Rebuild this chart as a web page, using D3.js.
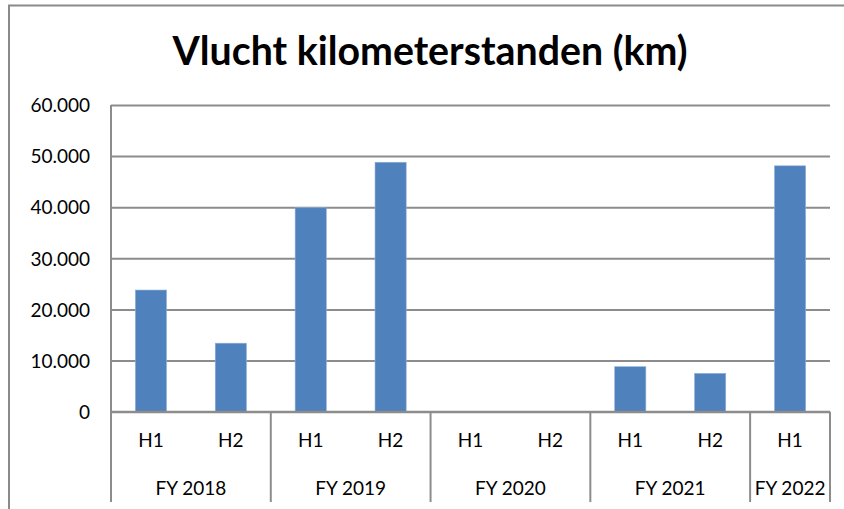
<!DOCTYPE html>
<html><head><meta charset="utf-8">
<script src="https://cdn.jsdelivr.net/npm/d3@7"></script>
<style>html,body{margin:0;padding:0;background:#fff;}svg{display:block;}</style>
</head><body>
<svg id="c" width="844" height="509"></svg>
<script>
const title = "Vlucht kilometerstanden (km)";
const halves = ["H1","H2","H1","H2","H1","H2","H1","H2","H1"];
const years  = ["FY 2018","FY 2018","FY 2019","FY 2019","FY 2020","FY 2020","FY 2021","FY 2021","FY 2022"];
const values = [23800, 13400, 39900, 48800, 0, 0, 8800, 7500, 48100];
const yTicks = [0, 10000, 20000, 30000, 40000, 50000, 60000];

const svg = d3.select("#c");
const W = 844, H = 509;
const m = {left:111, right:830, top:105, bottom:411.7};
const font = "Lato, 'Open Sans', sans-serif";
const gridColor = "#8c8c8c";

const idx = values.map((d,i)=>i);
const x = d3.scaleBand().domain(idx).range([m.left, m.right]).paddingInner(0.61).paddingOuter(0.305);
const y = d3.scaleLinear().domain([0, 60000]).range([m.bottom, m.top]);
const loc = d3.formatLocale({decimal:",", thousands:".", grouping:[3], currency:["",""]});
const fmt = loc.format(",d");

// outer frame
svg.append("path").attr("d", `M9,509 V5.5 H844`).attr("fill","none").attr("stroke","#8a8a8a").attr("stroke-width",2);

// title
const t = svg.append("text").attr("x", 430).attr("y", 65).attr("text-anchor","middle")
  .attr("font-family", font).attr("font-weight","bold").attr("font-size",38).attr("fill","#000")
  .text(title);
const tw = t.node().getComputedTextLength();
if (tw > 0) t.attr("font-size", 38 * 515 / tw);

// grid
const yAxis = d3.axisLeft(y).tickValues(yTicks).tickSize(-(m.right-m.left)).tickFormat(fmt).tickPadding(21);
const ga = svg.append("g").attr("transform",`translate(${m.left},0)`).call(yAxis);
ga.select(".domain").remove();
ga.selectAll(".tick line").attr("stroke", gridColor).attr("stroke-width",2);
ga.selectAll(".tick text").attr("font-family", font).attr("font-size",19).attr("fill","#000").attr("dy","0.35em");

// bars
svg.append("g").selectAll("rect").data(values).join("rect")
  .attr("x",(d,i)=>x(i)).attr("width",x.bandwidth())
  .attr("y",d=>y(d)).attr("height",d=>y(0)-y(d))
  .attr("fill","#4f81bd").attr("stroke","#8fb0da").attr("stroke-width",0.6);

// axis lines
const step = x.step();
const catLeft = i => m.left + i*step;
svg.append("line").attr("x1",m.left).attr("x2",m.left).attr("y1",m.top).attr("y2",502).attr("stroke",gridColor).attr("stroke-width",2);
svg.append("line").attr("x1",m.left).attr("x2",m.right).attr("y1",m.bottom).attr("y2",m.bottom).attr("stroke",gridColor).attr("stroke-width",2);

// group separators
const groups = [];
years.forEach((yv,i)=>{ if(!groups.length || groups[groups.length-1].name!==yv) groups.push({name:yv,start:i,end:i+1}); else groups[groups.length-1].end=i+1; });
const seps = [0].concat(groups.map(g=>g.end));
svg.append("g").selectAll("line").data(seps).join("line")
  .attr("x1",d=>catLeft(d)).attr("x2",d=>catLeft(d)).attr("y1",m.bottom).attr("y2",502)
  .attr("stroke",gridColor).attr("stroke-width",2);

// category labels
svg.append("g").selectAll("text").data(halves).join("text")
  .attr("x",(d,i)=>x(i)+x.bandwidth()/2).attr("y",440).attr("dy","0.35em")
  .attr("text-anchor","middle").attr("font-family",font).attr("font-size",19).attr("fill","#000")
  .text(d=>d);
svg.append("g").selectAll("text").data(groups).join("text")
  .attr("x",g=>(catLeft(g.start)+catLeft(g.end))/2).attr("y",488).attr("dy","0.35em")
  .attr("text-anchor","middle").attr("font-family",font).attr("font-size",19).attr("fill","#000")
  .text(g=>g.name);
</script>
</body></html>
